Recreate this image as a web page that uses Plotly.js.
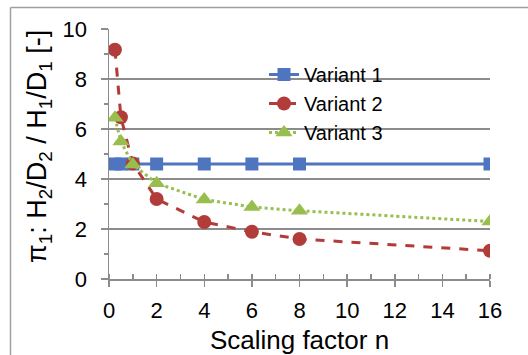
<!DOCTYPE html>
<html>
<head>
<meta charset="utf-8">
<script src="https://cdn.plot.ly/plotly-3.0.1.min.js"></script>
<style>html,body{margin:0;padding:0;background:#fff;}#chart{width:528px;height:355px;}</style>
</head>
<body>
<div id="chart"></div>
<script>
var scalingFactor = [0.25, 0.5, 1, 2, 4, 6, 8, 16];
var variant1 = [4.6, 4.6, 4.6, 4.6, 4.6, 4.6, 4.6, 4.6];
var variant2 = [9.17, 6.47, 4.62, 3.2, 2.28, 1.89, 1.6, 1.13];
var variant3 = [6.45, 5.5, 4.58, 3.83, 3.18, 2.88, 2.73, 2.3];
var seriesNames = ["Variant 1", "Variant 2", "Variant 3"];
var xTicks = [0, 2, 4, 6, 8, 10, 12, 14, 16];
var yTicks = [0, 2, 4, 6, 8, 10];
var xTitle = "Scaling factor n";
var yTitle = "π<sub>1</sub>: H<sub>2</sub>/D<sub>2</sub> / H<sub>1</sub>/D<sub>1</sub> [-]";

var FONT = "Liberation Sans";
var traces = [
  {x: scalingFactor, y: variant1, name: seriesNames[0], type: "scatter", mode: "lines+markers",
   legendgroup: "a",
   line: {color: "#4F74C0", width: 3},
   marker: {symbol: "square", size: 13, color: "#4F74C0"}},
  {x: scalingFactor, y: variant2, name: seriesNames[1], type: "scatter", mode: "lines+markers",
   legendgroup: "b",
   line: {color: "#B23C39", width: 3, dash: "dash"},
   marker: {symbol: "circle", size: 14, color: "#B23C39"}},
  {x: scalingFactor, y: variant3, name: seriesNames[2], type: "scatter", mode: "lines+markers",
   legendgroup: "c",
   line: {color: "#98BF4E", width: 3, dash: "dot"},
   marker: {symbol: "triangle-up", size: 15, color: "#98BF4E"}}
];

var L = 109, R = 38, T = 29, B = 76, W = 528, H = 355;
var pw = W - L - R, ph = H - T - B;
function px2x(p){ return (p - L) / pw; }
function px2y(p){ return (H - B - p) / ph; }

var layout = {
  width: W, height: H,
  margin: {l: L, r: R, t: T, b: B, pad: 0},
  paper_bgcolor: "#fff", plot_bgcolor: "#fff",
  font: {family: FONT, color: "#000", size: 20},
  showlegend: true,
  legend: {x: px2x(264), y: px2y(55), xanchor: "left", yanchor: "top",
           bgcolor: "rgba(0,0,0,0)", borderwidth: 0,
           font: {family: FONT, size: 20, color: "#000"},
           traceorder: "normal", tracegroupgap: 1, itemwidth: 30},
  xaxis: {range: [0, 16], tickmode: "array", tickvals: xTicks,
          showgrid: false, zeroline: false, showline: true, linecolor: "#8c8c8c", linewidth: 1.5,
          ticks: "outside", ticklen: 6, tickcolor: "#8c8c8c", tickwidth: 1.5, ticklabelstandoff: 5,
          minor: {dtick: 1, tick0: 0, ticks: "inside", ticklen: 5, tickcolor: "#8c8c8c", tickwidth: 1.5},
          tickfont: {family: FONT, size: 22, color: "#000"},
          title: {text: xTitle, font: {family: FONT, size: 26, color: "#000"}, standoff: 9}},
  yaxis: {range: [0, 10], tickmode: "array", tickvals: yTicks,
          showgrid: true, gridcolor: "#8c8c8c", gridwidth: 1.5,
          zeroline: false, showline: true, linecolor: "#8c8c8c", linewidth: 1.5,
          ticks: "outside", ticklen: 7, tickcolor: "#8c8c8c", tickwidth: 1.5, ticklabelstandoff: 9,
          minor: {dtick: 1, tick0: 0, ticks: "outside", ticklen: 4, tickcolor: "#8c8c8c", tickwidth: 1.5, showgrid: false},
          tickfont: {family: FONT, size: 22, color: "#000"}},
  annotations: [
    {text: yTitle, xref: "paper", yref: "paper", x: px2x(39), y: px2y(147),
     xanchor: "center", yanchor: "middle", textangle: -90, showarrow: false,
     font: {family: FONT, size: 27, color: "#000"}}
  ],
  shapes: [
    {type: "line", xref: "paper", yref: "paper", x0: px2x(10.5), x1: px2x(540), y0: px2y(7.5), y1: px2y(7.5),
     line: {color: "#a0a0a0", width: 1.5}},
    {type: "line", xref: "paper", yref: "paper", x0: px2x(10.5), x1: px2x(10.5), y0: px2y(7.5), y1: px2y(370),
     line: {color: "#a0a0a0", width: 1.5}}
  ]
};

Plotly.newPlot("chart", traces, layout, {displayModeBar: false, staticPlot: true});
</script>
</body>
</html>
